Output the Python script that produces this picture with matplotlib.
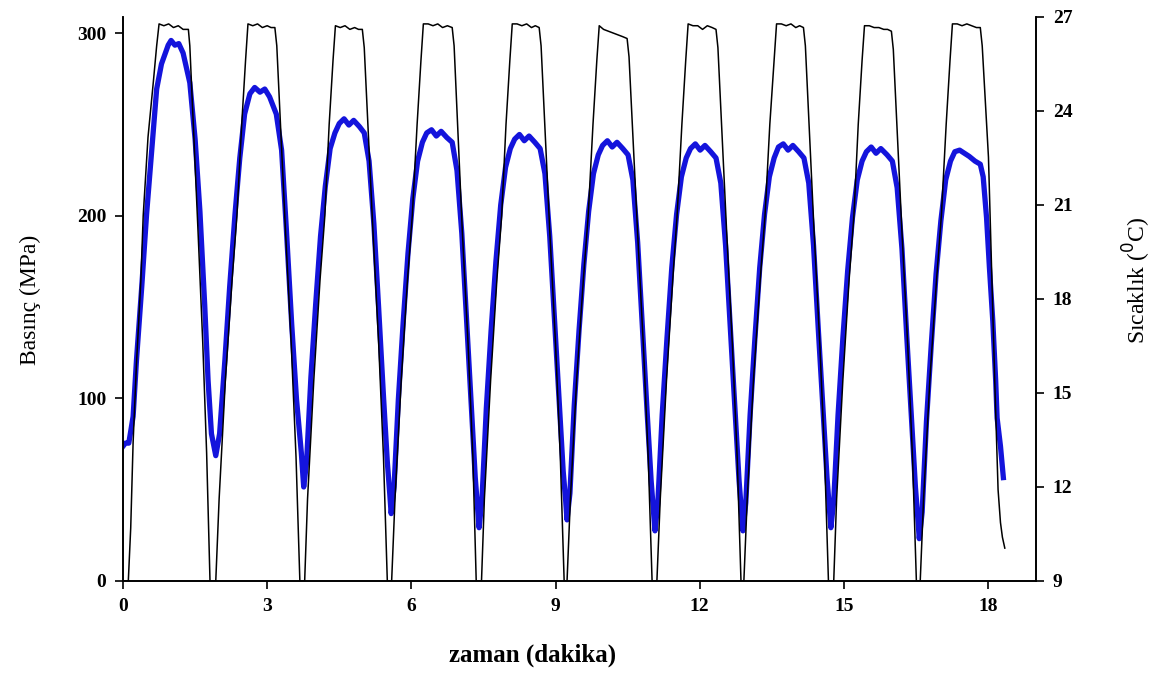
import matplotlib
matplotlib.use("Agg")
import matplotlib.pyplot as plt

plt.rcParams['font.family'] = ['Liberation Serif', 'DejaVu Serif']

# pressure (MPa) vs time (min), black trace
p_time = [
    0.00, 0.11, 0.16, 0.21, 0.28, 0.37, 0.42, 0.52, 0.63, 0.70, 0.75,
    0.85, 0.95, 1.05, 1.15, 1.25, 1.36, 1.39, 1.56, 1.66, 1.74, 1.81,
    1.93, 2.00, 2.13, 2.27, 2.37, 2.47, 2.55, 2.60,
    2.70, 2.80, 2.90, 3.00, 3.08, 3.16, 3.20, 3.38, 3.50, 3.60, 3.68,
    3.78, 3.84, 3.97, 4.10, 4.20, 4.29, 4.37, 4.42,
    4.52, 4.62, 4.72, 4.82, 4.90, 4.98, 5.02, 5.20, 5.32, 5.42, 5.50,
    5.59, 5.66, 5.79, 5.92, 6.02, 6.12, 6.20, 6.25,
    6.35, 6.45, 6.55, 6.65, 6.75, 6.85, 6.89, 7.06, 7.18, 7.28, 7.35,
    7.46, 7.52, 7.65, 7.78, 7.88, 7.97, 8.05, 8.10,
    8.20, 8.30, 8.40, 8.50, 8.58, 8.66, 8.70, 8.88, 9.00, 9.10, 9.18,
    9.24, 9.31, 9.44, 9.58, 9.68, 9.78, 9.86, 9.91,
    10.00, 10.10, 10.20, 10.30, 10.40, 10.49, 10.53, 10.71, 10.83, 10.93, 11.01,
    11.11, 11.18, 11.31, 11.44, 11.53, 11.63, 11.71, 11.76,
    11.86, 11.96, 12.06, 12.16, 12.26, 12.34, 12.38, 12.56, 12.68, 12.78, 12.86,
    12.92, 12.99, 13.12, 13.26, 13.36, 13.46, 13.55, 13.60,
    13.70, 13.80, 13.90, 14.00, 14.08, 14.16, 14.20, 14.38, 14.50, 14.60, 14.68,
    14.79, 14.85, 14.98, 15.11, 15.21, 15.30, 15.38, 15.43,
    15.53, 15.63, 15.73, 15.83, 15.91, 15.99, 16.03, 16.21, 16.33, 16.43, 16.51,
    16.59, 16.66, 16.79, 16.93, 17.03, 17.13, 17.21, 17.26,
    17.36, 17.46, 17.56, 17.66, 17.76, 17.84, 17.88, 18.01, 18.14, 18.21, 18.26, 18.30, 18.35,
]
pressure = [
    0, 0, 29, 76, 119, 164, 200, 243, 273, 293, 305,
    304, 305, 303, 304, 302, 302, 293, 192, 130, 70, 0,
    0, 45, 110, 165, 200, 250, 285, 305,
    304, 305, 303, 304, 303, 303, 293, 192, 130, 68, 0,
    0, 45, 110, 165, 200, 250, 285, 304,
    303, 304, 302, 303, 302, 302, 292, 192, 130, 68, 0,
    0, 45, 110, 165, 200, 250, 285, 305,
    305, 304, 305, 303, 304, 303, 293, 192, 130, 68, 0,
    0, 45, 110, 165, 200, 250, 285, 305,
    305, 304, 305, 303, 304, 303, 293, 192, 130, 68, 0,
    0, 45, 110, 165, 200, 250, 285, 304,
    302, 301, 300, 299, 298, 297, 287, 190, 128, 67, 0,
    0, 45, 110, 165, 200, 250, 285, 305,
    304, 304, 302, 304, 303, 302, 292, 192, 130, 68, 0,
    0, 45, 110, 165, 200, 250, 285, 305,
    305, 304, 305, 303, 304, 303, 293, 192, 130, 68, 0,
    0, 45, 110, 165, 200, 250, 285, 304,
    304, 303, 303, 302, 302, 301, 291, 191, 129, 67, 0,
    0, 45, 110, 165, 200, 250, 285, 305,
    305, 304, 305, 304, 303, 303, 293, 232, 110, 50, 32, 24, 18,
]

# temperature (C) vs time (min), blue trace
t_time = [
    0.00, 0.05, 0.12, 0.21, 0.28, 0.39, 0.49, 0.60, 0.70, 0.80, 0.94,
    1.00, 1.08, 1.16, 1.25, 1.39, 1.50, 1.60, 1.70, 1.77, 1.84, 1.93,
    2.01, 2.12, 2.22, 2.33, 2.43, 2.53, 2.64, 2.74, 2.85, 2.95, 3.05,
    3.19, 3.30, 3.40, 3.51, 3.61, 3.71, 3.76,
    3.82, 3.91, 4.01, 4.11, 4.21, 4.31, 4.41,
    4.50, 4.60, 4.70, 4.80, 4.92, 5.02, 5.12, 5.22, 5.32, 5.42, 5.50, 5.55, 5.58,
    5.64, 5.73, 5.83, 5.93, 6.03, 6.13, 6.23,
    6.32, 6.42, 6.52, 6.62, 6.74, 6.85, 6.95, 7.05, 7.15, 7.25, 7.33, 7.38, 7.41,
    7.47, 7.56, 7.66, 7.76, 7.86, 7.96, 8.06,
    8.15, 8.25, 8.35, 8.45, 8.57, 8.68, 8.78, 8.88, 8.98, 9.08, 9.16, 9.21, 9.24,
    9.30, 9.39, 9.49, 9.59, 9.69, 9.79, 9.89,
    9.98, 10.08, 10.18, 10.28, 10.40, 10.51, 10.61, 10.71, 10.81, 10.91, 10.99, 11.04, 11.07,
    11.13, 11.22, 11.32, 11.42, 11.52, 11.62, 11.72,
    11.81, 11.91, 12.01, 12.11, 12.23, 12.34, 12.44, 12.54, 12.64, 12.74, 12.82, 12.87, 12.90,
    12.96, 13.05, 13.15, 13.25, 13.35, 13.45, 13.55,
    13.64, 13.74, 13.84, 13.94, 14.06, 14.17, 14.27, 14.37, 14.47, 14.57, 14.65, 14.70, 14.73,
    14.79, 14.88, 14.98, 15.08, 15.18, 15.28, 15.38,
    15.47, 15.57, 15.67, 15.77, 15.90, 16.01, 16.11, 16.21, 16.31, 16.41, 16.49, 16.54, 16.57,
    16.63, 16.72, 16.82, 16.92, 17.02, 17.12, 17.22,
    17.31, 17.41, 17.51, 17.61, 17.73, 17.84, 17.90, 17.97, 18.03, 18.10, 18.16, 18.19, 18.26, 18.32,
]
temperature = [
    13.3, 13.4, 13.4, 14.25, 16.05, 18.4, 20.7, 22.8, 24.7, 25.5, 26.1,
    26.25, 26.1, 26.15, 25.85, 24.9, 23.1, 20.8, 17.8, 15.4, 13.7, 13.0,
    13.7, 16.05, 18.4, 20.7, 22.5, 23.9, 24.55, 24.75, 24.6, 24.7, 24.45,
    23.9, 22.75, 20.2, 17.2, 14.8, 13.1, 12.0,
    12.8, 15.5, 17.85, 20.0, 21.6, 22.8, 23.3,
    23.6, 23.75, 23.55, 23.7, 23.5, 23.3, 22.4, 20.4, 17.7, 14.9, 12.8, 11.8, 11.15,
    12.0, 14.8, 17.25, 19.45, 21.2, 22.4, 23.0,
    23.3, 23.4, 23.2, 23.35, 23.15, 23.0, 22.1, 20.1, 17.3, 14.5, 12.3, 11.3, 10.7,
    11.6, 14.5, 17.0, 19.2, 21.0, 22.2, 22.8,
    23.1, 23.25, 23.05, 23.2, 23.0, 22.8, 22.0, 20.0, 17.3, 14.6, 12.5, 11.6, 10.95,
    11.8, 14.6, 17.0, 19.1, 20.8, 22.0, 22.6,
    22.9, 23.05, 22.85, 23.0, 22.8, 22.6, 21.8, 19.8, 17.05, 14.3, 12.2, 11.2, 10.6,
    11.5, 14.3, 16.75, 19.0, 20.7, 21.9, 22.5,
    22.8, 22.95, 22.75, 22.9, 22.7, 22.5, 21.7, 19.7, 17.0, 14.3, 12.2, 11.2, 10.6,
    11.5, 14.3, 16.75, 19.0, 20.7, 21.9, 22.5,
    22.85, 22.95, 22.75, 22.9, 22.7, 22.5, 21.7, 19.7, 17.0, 14.4, 12.3, 11.3, 10.7,
    11.55, 14.3, 16.75, 18.9, 20.6, 21.8, 22.4,
    22.7, 22.85, 22.65, 22.8, 22.6, 22.4, 21.55, 19.6, 16.8, 14.1, 12.0, 11.0, 10.35,
    11.2, 14.1, 16.55, 18.8, 20.5, 21.8, 22.4,
    22.7, 22.75, 22.65, 22.55, 22.4, 22.3, 21.9, 20.6, 19.0, 17.3, 15.4, 14.2, 13.3, 12.3,
]

x_ticks = [0, 3, 6, 9, 12, 15, 18]
p_ticks = [0, 100, 200, 300]
t_ticks = [9, 12, 15, 18, 21, 24, 27]

fig = plt.figure(figsize=(11.65, 6.84), dpi=100)
ax = fig.add_axes([0.1056, 0.1506, 0.7837, 0.8246])
ax2 = ax.twinx()

ax2.plot(t_time, temperature, color='#1414dc', lw=3.8, solid_joinstyle='round')
ax.plot(p_time, pressure, color='black', lw=1.1)

ax.set_zorder(ax2.get_zorder() + 1)
ax.patch.set_visible(False)

ax.set_xlim(0, 19)
ax.set_ylim(0, 308.8)
ax2.set_ylim(9, 27)

ax.set_xticks(x_ticks)
ax.set_yticks(p_ticks)
ax2.set_yticks(t_ticks)

for a in (ax, ax2):
    a.spines['top'].set_visible(False)
    for s in a.spines.values():
        s.set_linewidth(1.2)
    a.tick_params(direction='out', length=6, width=1.2, labelsize=14, pad=6)
    for lab in a.get_xticklabels() + a.get_yticklabels():
        lab.set_fontweight('bold')

fig.text(0.457, 0.042, 'zaman (dakika)', ha='center', va='center',
         fontsize=18, fontweight='bold')
fig.text(0.026, 0.561, 'Basınç (MPa)', ha='center', va='center',
         rotation=90, fontsize=17)
fig.text(0.976, 0.59, 'Sıcaklık ($^{0}$C)', ha='center', va='center',
         rotation=90, fontsize=17)

fig.savefig('out.png', dpi=100)
